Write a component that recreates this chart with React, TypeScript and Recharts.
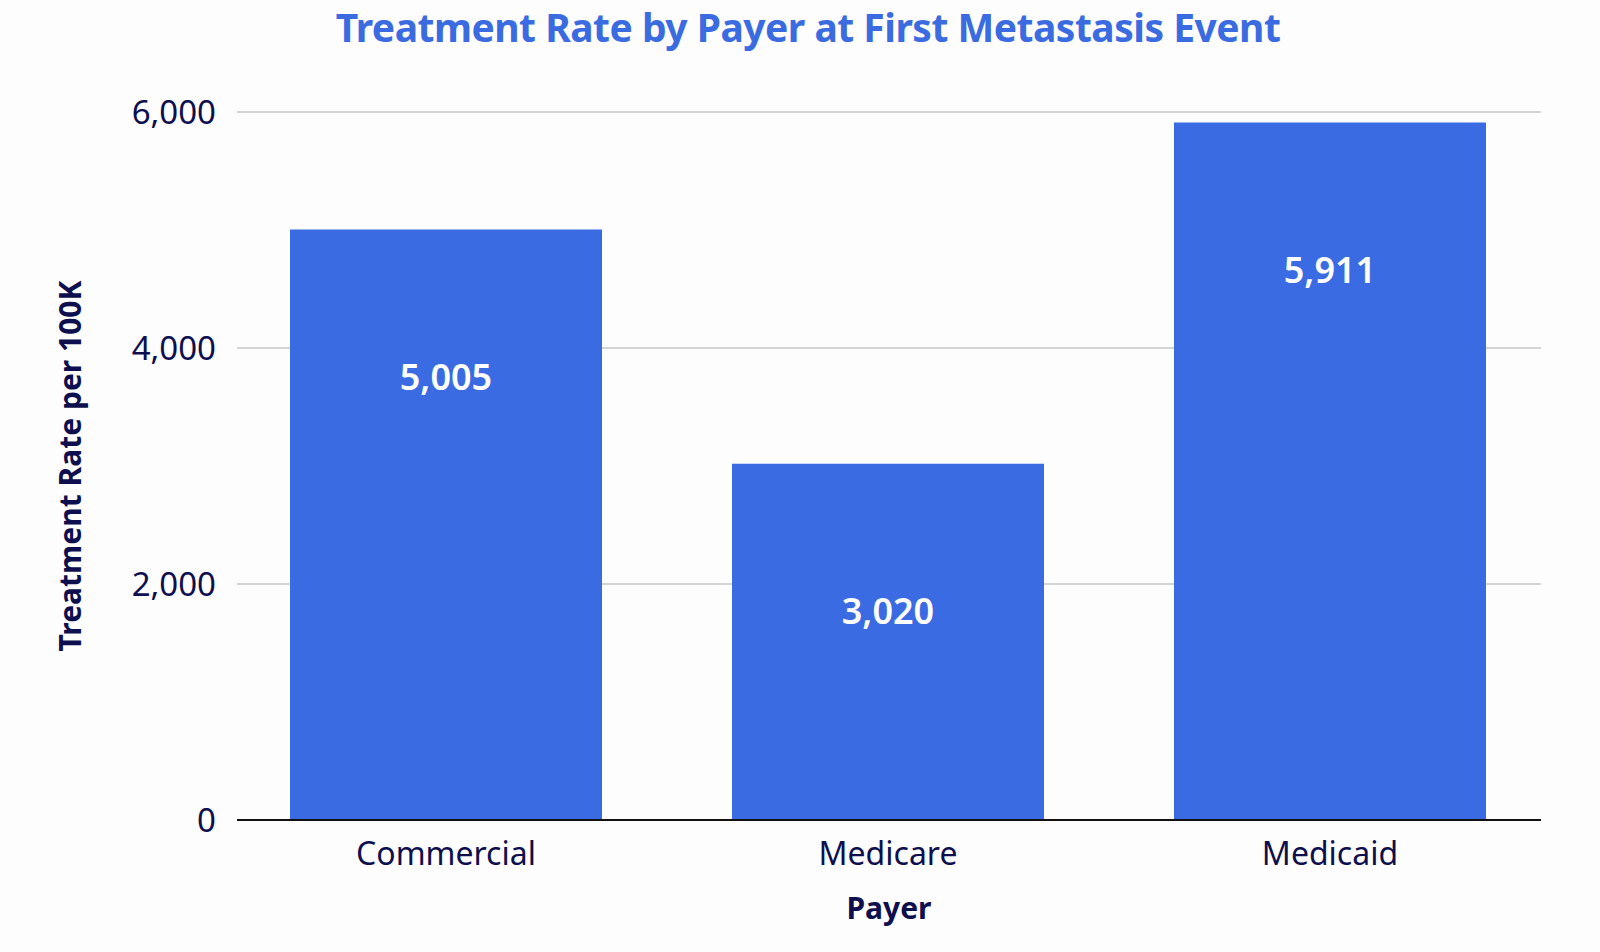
import React from "react";
import {
  BarChart,
  Bar,
  XAxis,
  YAxis,
  CartesianGrid,
  LabelList,
  Label,
} from "recharts";

const payers = ["Commercial", "Medicare", "Medicaid"];
const treatmentRates = [5005, 3020, 5911];
const yTicks = [0, 2000, 4000, 6000];

const data = payers.map((payer, i) => ({ payer, rate: treatmentRates[i] }));

const BLUE = "#3a6be2";
const NAVY = "#0d0f4f";
const FONT = "'Noto Sans', sans-serif";

const fmt = (v: number) => v.toLocaleString("en-US");

const ValueLabel = (props: any) => {
  const { x, y, width, value } = props;
  return (
    <text
      x={x + width / 2}
      y={y + 147}
      fill="#ffffff"
      textAnchor="middle"
      dominantBaseline="central"
      fontSize={36}
      fontWeight={600}
      fontFamily={FONT}
    >
      {fmt(value)}
    </text>
  );
};

export default function App() {
  return (
    <div
      style={{
        position: "absolute",
        left: 0,
        top: 0,
        width: 1600,
        height: 952,
        background: "#fdfdfd",
        fontFamily: FONT,
      }}
    >
      <div
        style={{
          position: "absolute",
          top: 7,
          left: 0,
          width: 1616,
          textAlign: "center",
          color: "#3b6be0",
          fontSize: 39,
          lineHeight: "40px",
          fontWeight: 700,
          letterSpacing: -0.5,
          zIndex: 1,
        }}
      >
        Treatment Rate by Payer at First Metastasis Event
      </div>
      <BarChart
        width={1600}
        height={952}
        data={data}
        margin={{ top: 112, right: 59, bottom: 0, left: 0 }}
        barSize={312}
      >
        <CartesianGrid vertical={false} stroke="#d4d4d4" strokeWidth={2} />
        <XAxis
          dataKey="payer"
          axisLine={{ stroke: "#111111", strokeWidth: 2 }}
          tickLine={false}
          tick={{ fill: NAVY, fontSize: 32, fontFamily: FONT }}
          tickMargin={16}
          height={132}
          padding={{ left: -12, right: -10 }}
        >
          <Label
            value="Payer"
            position="insideTop"
            offset={78}
            fill={NAVY}
            fontSize={30}
            fontWeight={700}
            fontFamily={FONT}
          />
        </XAxis>
        <YAxis
          domain={[0, 6000]}
          ticks={yTicks}
          tickFormatter={fmt}
          axisLine={false}
          tickLine={false}
          tick={{ fill: NAVY, fontSize: 33, fontFamily: FONT }}
          tickMargin={15}
          width={237}
        >
          <Label
            value="Treatment Rate per 100K"
            angle={-90}
            position="insideLeft"
            offset={70}
            style={{ textAnchor: "middle" }}
            fill={NAVY}
            fontSize={30}
            fontWeight={700}
            fontFamily={FONT}
          />
        </YAxis>
        <Bar dataKey="rate" fill={BLUE} isAnimationActive={false}>
          <LabelList dataKey="rate" content={<ValueLabel />} />
        </Bar>
      </BarChart>
    </div>
  );
}
